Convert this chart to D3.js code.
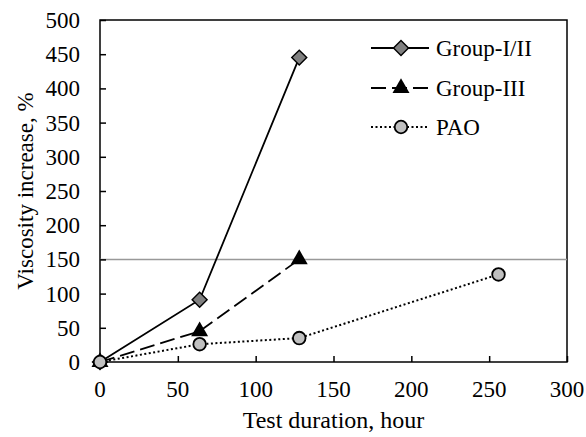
<!DOCTYPE html>
<html>
<head>
<meta charset="utf-8">
<script src="https://cdn.jsdelivr.net/npm/d3@7"></script>
<style>
  body { margin: 0; background: #fff; }
  text { font-family: "Liberation Serif", "Times New Roman", serif; font-size: 23px; }
</style>
</head>
<body>
<div id="chart"></div>
<script>
const xTicks = [0, 50, 100, 150, 200, 250, 300];
const yTicks = [0, 50, 100, 150, 200, 250, 300, 350, 400, 450, 500];
const limitValue = 150;

const groupI = [[0, 0], [64, 91], [128, 445]];
const groupIII = [[0, 0], [64, 45], [128, 150]];
const pao = [[0, 0], [64, 26], [128, 35], [256, 128]];

const seriesNames = ['Group-I/II', 'Group-III', 'PAO'];

const width = 586;
const height = 437;
const margin = { top: 20, right: 19, bottom: 75, left: 100 };

const svg = d3.select('#chart')
    .append('svg')
    .attr('width', width)
    .attr('height', height);

const x = d3.scaleLinear().domain([0, 300]).range([margin.left, width - margin.right]);
const y = d3.scaleLinear().domain([0, 500]).range([height - margin.bottom, margin.top]);

// frame
svg.append('rect')
    .attr('x', x(0))
    .attr('y', y(500))
    .attr('width', x(300) - x(0))
    .attr('height', y(0) - y(500))
    .attr('fill', 'none')
    .attr('stroke', '#000')
    .attr('stroke-width', 1.5);

// limit line
svg.append('line')
    .attr('x1', x(0)).attr('x2', x(300))
    .attr('y1', y(limitValue)).attr('y2', y(limitValue))
    .attr('stroke', '#999')
    .attr('stroke-width', 1.5);

// axes with inward ticks
const xAxis = svg.append('g')
    .attr('transform', 'translate(0,' + y(0) + ')')
    .call(d3.axisTop(x).tickValues(xTicks).tickSize(6).tickFormat(''));
xAxis.select('.domain').remove();
xAxis.selectAll('line').attr('stroke-width', 1.5);

const yAxis = svg.append('g')
    .attr('transform', 'translate(' + x(0) + ',0)')
    .call(d3.axisRight(y).tickValues(yTicks).tickSize(6).tickFormat(''));
yAxis.select('.domain').remove();
yAxis.selectAll('line').attr('stroke-width', 1.5);

svg.append('g')
    .selectAll('text')
    .data(xTicks)
    .join('text')
    .attr('x', d => x(d))
    .attr('y', y(0) + 35)
    .attr('text-anchor', 'middle')
    .text(d => d);

svg.append('g')
    .selectAll('text')
    .data(yTicks)
    .join('text')
    .attr('x', x(0) - 20)
    .attr('y', d => y(d) + 8)
    .attr('text-anchor', 'end')
    .text(d => d);

svg.append('text')
    .attr('x', (x(0) + x(300)) / 2)
    .attr('y', 428)
    .attr('text-anchor', 'middle')
    .style('font-size', '24px')
    .text('Test duration, hour');

svg.append('text')
    .attr('transform', 'translate(33,' + ((y(0) + y(500)) / 2) + ')rotate(-90)')
    .attr('text-anchor', 'middle')
    .text('Viscosity increase, %');

const line = d3.line().x(d => x(d[0])).y(d => y(d[1]));

const styles = [
    { data: groupI, dash: null, width: 1.8 },
    { data: groupIII, dash: '15,6', width: 1.8 },
    { data: pao, dash: '2,2.5', width: 2 }
];

styles.forEach(s => {
    svg.append('path')
        .datum(s.data)
        .attr('d', line)
        .attr('fill', 'none')
        .attr('stroke', '#000')
        .attr('stroke-width', s.width)
        .attr('stroke-dasharray', s.dash);
});

function diamond(g, cx, cy) {
    g.append('path')
        .attr('d', d3.symbol(d3.symbolSquare, 112)())
        .attr('transform', 'translate(' + cx + ',' + cy + ')rotate(45)')
        .attr('fill', '#808080')
        .attr('stroke', '#000')
        .attr('stroke-width', 1.4);
}
function triangle(g, cx, cy) {
    g.append('path')
        .attr('d', d3.symbol(d3.symbolTriangle, 125)())
        .attr('transform', 'translate(' + cx + ',' + cy + ')')
        .attr('fill', '#000');
}
function circle(g, cx, cy) {
    g.append('circle')
        .attr('cx', cx).attr('cy', cy).attr('r', 6.3)
        .attr('fill', '#c0c0c0')
        .attr('stroke', '#000')
        .attr('stroke-width', 1.8);
}

const markers = svg.append('g');
groupIII.forEach(d => triangle(markers, x(d[0]), y(d[1])));
groupI.forEach(d => diamond(markers, x(d[0]), y(d[1])));
pao.forEach(d => circle(markers, x(d[0]), y(d[1])));

// legend
const legend = svg.append('g');
const legRows = [48, 88, 127];
const drawFns = [diamond, triangle, circle];
seriesNames.forEach((name, i) => {
    legend.append('line')
        .attr('x1', 371).attr('x2', 429)
        .attr('y1', legRows[i]).attr('y2', legRows[i])
        .attr('stroke', '#000')
        .attr('stroke-width', styles[i].width)
        .attr('stroke-dasharray', styles[i].dash);
    drawFns[i](legend, 401, legRows[i]);
    legend.append('text')
        .attr('x', 436)
        .attr('y', legRows[i] + 7.5)
        .text(name);
});
</script>
</body>
</html>
